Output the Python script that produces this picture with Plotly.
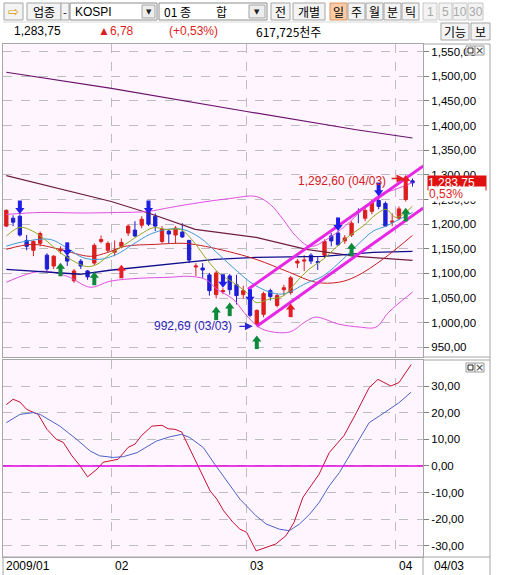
import plotly.graph_objects as go

W, H = 512, 575

# trading days shown (index on the x axis)
dates = ['2009-01-07', '2009-01-08', '2009-01-09', '2009-01-12', '2009-01-13', '2009-01-14',
         '2009-01-15', '2009-01-16', '2009-01-19', '2009-01-20', '2009-01-21', '2009-01-22',
         '2009-01-23', '2009-01-28', '2009-01-29', '2009-01-30',
         '2009-02-02', '2009-02-03', '2009-02-04', '2009-02-05', '2009-02-06', '2009-02-09',
         '2009-02-10', '2009-02-11', '2009-02-12', '2009-02-13', '2009-02-16', '2009-02-17',
         '2009-02-18', '2009-02-19', '2009-02-20', '2009-02-23', '2009-02-24', '2009-02-25',
         '2009-02-26', '2009-02-27',
         '2009-03-02', '2009-03-03', '2009-03-04', '2009-03-05', '2009-03-06', '2009-03-09',
         '2009-03-10', '2009-03-11', '2009-03-12', '2009-03-13', '2009-03-16', '2009-03-17',
         '2009-03-18', '2009-03-19', '2009-03-20', '2009-03-23', '2009-03-24', '2009-03-25',
         '2009-03-26', '2009-03-27', '2009-03-30', '2009-03-31',
         '2009-04-01', '2009-04-02', '2009-04-03']

opens = [1196, 1212, 1216, 1167, 1147, 1161, 1137, 1115, 1146, 1135, 1085, 1125, 1105, 1121, 1165, 1147,
         1143, 1155, 1182, 1188, 1198, 1226, 1216, 1165, 1186, 1178, 1184, 1167, 1113, 1111, 1097, 1057,
         1063, 1095, 1077, 1057, 1045, 997, 1017, 1065, 1035, 1067, 1061, 1121, 1125, 1137, 1124, 1137,
         1176, 1182, 1166, 1178, 1226, 1212, 1226, 1248, 1242, 1204, 1212, 1250, 1288]
highs = [1230, 1218, 1220, 1178, 1167, 1185, 1141, 1137, 1155, 1141, 1109, 1129, 1107, 1161, 1177, 1165,
         1167, 1171, 1200, 1206, 1216, 1230, 1222, 1196, 1190, 1196, 1202, 1168, 1121, 1121, 1101, 1105,
         1070, 1099, 1097, 1075, 1049, 1027, 1063, 1069, 1059, 1077, 1095, 1129, 1137, 1141, 1133, 1169,
         1182, 1186, 1178, 1206, 1232, 1234, 1250, 1252, 1246, 1222, 1236, 1280, 1292.6]
lows = [1194, 1196, 1175, 1147, 1135, 1155, 1105, 1109, 1140, 1115, 1081, 1109, 1087, 1117, 1161, 1143,
        1135, 1151, 1176, 1174, 1192, 1196, 1186, 1161, 1161, 1161, 1172, 1121, 1095, 1091, 1055, 1049,
        1058, 1057, 1037, 1049, 1011, 992.69, 1011, 1045, 1031, 1055, 1057, 1111, 1105, 1119, 1107, 1131,
        1155, 1156, 1160, 1174, 1202, 1206, 1220, 1230, 1194, 1196, 1208, 1246, 1276]
closes = [1228, 1204, 1178, 1155, 1165, 1181, 1109, 1135, 1149, 1125, 1105, 1115, 1093, 1157, 1169, 1161,
          1147, 1163, 1196, 1176, 1210, 1200, 1196, 1190, 1180, 1192, 1174, 1127, 1115, 1107, 1065, 1101,
          1065, 1067, 1055, 1065, 1015, 1025, 1059, 1053, 1055, 1071, 1091, 1125, 1127, 1125, 1122, 1165,
          1166, 1158, 1172, 1202, 1224, 1228, 1246, 1236, 1196, 1206, 1231, 1277, 1283.75]

# moving averages / bands (x = day index)
ma_top_x = [0, 15.3, 35.5, 51.7, 60]
ma_top = [1508.3, 1476.0, 1428.6, 1391.6, 1374.8]
ma_mid_x = [0, 7.9, 15.5, 21.2, 27.9, 36.9, 44.3, 51.7, 60]
ma_mid = [1298.6, 1272.2, 1246.0, 1221.7, 1189.3, 1173.1, 1148.9, 1134.7, 1126.6]
ma_navy_x = [0, 5, 10.9, 15.3, 30.8, 36.9, 46.8, 54.2, 60]
ma_navy = [1108.4, 1104.3, 1098.3, 1106.4, 1128.6, 1132.7, 1134.7, 1142.8, 1144.8]
bb_mid_x = [0, 3.9, 7.9, 12.4, 15, 17.5, 22, 26.4, 29.4, 32.7, 36.9, 41.8, 45.7, 49.1, 51.7, 55.6, 60]
bb_mid = [1148.9, 1159.0, 1148.9, 1134.7, 1142.8, 1154.9, 1159.0, 1161.0, 1154.9, 1144.8, 1128.6,
          1102.3, 1082.1, 1082.1, 1094.2, 1128.6, 1177.2]
bb_up_x = [0, 5, 10.9, 16.4, 20.8, 24.2, 28.6, 33, 36.9, 39, 40.9, 42.8, 44.9, 47.8, 50.8, 53, 55.2, 57.4, 60]
bb_up = [1219.7, 1223.7, 1222.7, 1223.7, 1225.7, 1233.8, 1243.9, 1252.0, 1256.1, 1239.9, 1209.5, 1175.2,
         1154.9, 1173.1, 1205.5, 1235.8, 1260.1, 1270.2, 1284.4]
bb_dn_x = [0, 5, 9, 12.4, 15.3, 19.7, 24.2, 26.8, 29.4, 31.1, 33.5, 35.7, 37.8, 41.8, 44.1, 45.7, 49.1,
           52.2, 54.6, 56.5, 60]
bb_dn = [1082.1, 1104.3, 1094.2, 1072.0, 1084.1, 1090.2, 1092.2, 1094.2, 1088.2, 1068.0, 1047.7, 1011.3,
         987.0, 981.0, 1001.2, 1011.3, 997.1, 991.1, 991.1, 1021.4, 1062.0]
ma5_x = [0, 2, 3.9, 6, 7.9, 9.9, 11.9, 13.4, 15.3, 17.2, 19.8, 21.7, 23.7, 25.7, 27.6, 29.6, 31.6, 33.5,
         35.5, 36.9, 38.8, 40.9, 42.8, 44.7, 46.8, 48.7, 50.6, 52.7, 54.6, 56.1, 57.6, 60]
ma5 = [1175.8, 1193.4, 1185.9, 1165.6, 1142.8, 1125.2, 1113.9, 1118.5, 1138.7, 1155.6, 1179.2, 1192.7,
       1189.3, 1189.3, 1165.6, 1128.6, 1098.3, 1081.5, 1061.3, 1041.0, 1047.7, 1054.4, 1082.1, 1108.4,
       1128.6, 1152.9, 1175.8, 1196.0, 1219.7, 1229.8, 1213.6, 1236.5]
ma10_x = [0, 3, 6.5, 8.9, 11.3, 13.8, 16.3, 18.7, 21.2, 23.7, 26.1, 28.6, 31.1, 33.5, 36.9, 40.7, 44.3,
          46.8, 49.7, 51.7, 54.2, 56.1, 58, 60]
ma10 = [1155.5, 1165.6, 1169.1, 1152.3, 1132.1, 1128.6, 1138.7, 1159.0, 1179.2, 1189.3, 1189.3, 1172.5,
        1142.2, 1111.9, 1074.6, 1058.0, 1080.0, 1095.0, 1128.6, 1155.5, 1185.9, 1196.0, 1209.5, 1223.7]

# trend channel (start / end)
chan_up_x = [35.7, 61.6]
chan_up = [1068, 1318]
chan_dn_x = [37, 61.6]
chan_dn = [992.69, 1233]

# signal arrows
sell_idx = [2, 9, 21, 32, 36, 49, 55]
sell_at = [1233.8, 1148.9, 1233.8, 1084.1, 1053.8, 1199.4, 1270.2]
buy_idx = [8, 13, 31, 33, 37, 51, 59]
buy_at = [1108.4, 1090.2, 1019.4, 1027.5, 960.7, 1148.9, 1219.7]
up_idx = [17, 42, 59]
up_at = [1104.3, 1025.5, 1286.4]

# oscillator panel
osc_x = [0, 1, 2, 3, 4.7, 6, 7.4, 8.4, 9.7, 10.9, 12, 13.4, 14.3, 15.6, 16.5, 18, 19, 20, 21.5, 23,
         23.9, 24.9, 25.9, 26.9, 28.1, 29.1, 30.1, 31.1, 32.1, 33.5, 34.5, 35.5, 36.9, 39.8, 41.3, 42.5,
         43.8, 45, 46.2, 47.7, 49.9, 51.7, 53.6, 54.9, 56.8, 58, 59.8]
osc = [23.1, 25.1, 24.1, 21.3, 19.4, 13.8, 10.0, 8.9, 3.8, 0.0, -4.1, -1.2, 1.4, 2.1, 2.5, 7.0, 8.2,
       11.5, 15.0, 15.3, 14.0, 13.8, 12.8, 7.5, 1.3, -3.8, -9.4, -12.5, -16.9, -21.3, -23.8, -25.0,
       -32.0, -29.4, -26.3, -21.3, -11.9, -7.5, -3.1, 5.0, 11.5, 20.0, 29.5, 32.6, 30.1, 31.4, 38.2]
sig_x = [0, 2, 4, 5, 7.9, 10.4, 12.4, 13.8, 15.8, 17.3, 19.3, 22.2, 24.2, 25.9, 27.1, 29.1, 30.8, 32.5,
         34.5, 36.9, 38.4, 40.3, 41.8, 43.3, 44.8, 46.2, 47.7, 49.2, 50.7, 52.1, 53.6, 55.1, 56.6, 58, 59.8]
sig = [16.3, 19.4, 20.1, 19.4, 15.0, 10.0, 5.6, 3.8, 3.2, 3.5, 5.0, 9.4, 11.0, 11.9, 10.7, 6.9, 0.6,
       -5.6, -12.5, -18.8, -21.9, -23.8, -24.4, -21.9, -18.2, -13.8, -7.5, -2.5, 3.8, 10.0, 16.3, 18.8,
       21.3, 23.8, 27.8]

price_ticks = list(range(950, 1551, 50))
osc_ticks = [-30, -20, -10, 0, 10, 20, 30]
month_labels = ['2009/01', '02', '03', '04']
last_price = 1283.75
last_change_pct = '0,53%'


def kfmt(v):
    s = f"{abs(v):,.2f}".replace('.', ',')
    return ('-' if v < 0 else '') + s


NUM = 'Liberation Sans, Arial, sans-serif'
KOR = 'Noto Sans CJK KR'
RED = '#DC1E1E'
BLUE = '#1E1ED2'
PX = 2.023  # price units per pixel in the top panel

xi = list(range(len(dates)))
month_edges = [i - 0.5 for i in xi if i == 0 or dates[i][5:7] != dates[i - 1][5:7]]

fig = go.Figure()


def line(x, y, color, width=1, shape='linear'):
    fig.add_trace(go.Scatter(x=x, y=y, mode='lines', line=dict(color=color, width=width, shape=shape),
                             hoverinfo='skip', xaxis='x', yaxis='y'))


line(ma_top_x, ma_top, '#6B126B', 1.2)
line(ma_mid_x, ma_mid, '#6E1E3E', 1.2)
line(bb_up_x, bb_up, '#E050E0', 1, 'spline')
line(bb_dn_x, bb_dn, '#E050E0', 1, 'spline')
line(ma_navy_x, ma_navy, '#10108C', 1.3)
line(bb_mid_x, bb_mid, '#C81E1E', 1, 'spline')
line(ma10_x, ma10, '#3C9BD2', 1, 'spline')
line(ma5_x, ma5, '#8CAA1E', 1, 'spline')

fig.add_trace(go.Candlestick(
    x=xi, open=opens, high=highs, low=lows, close=closes,
    increasing=dict(line=dict(color=RED, width=1), fillcolor=RED),
    decreasing=dict(line=dict(color=BLUE, width=1), fillcolor=BLUE),
    xaxis='x', yaxis='y', hoverinfo='skip'))

line(chan_up_x, chan_up, '#E628E6', 3)
line(chan_dn_x, chan_dn, '#E628E6', 3)


def arrows(idx, at, color, down):
    sgn = -1 if down else 1
    head = [v + sgn * 2.6 * PX for v in at]
    shaft = [v - sgn * 2.8 * PX for v in at]
    fig.add_trace(go.Scatter(x=idx, y=shaft, mode='markers', hoverinfo='skip',
                             marker=dict(symbol='line-ns-open', size=6, color=color,
                                         line=dict(color=color, width=4))))
    fig.add_trace(go.Scatter(x=idx, y=head, mode='markers', hoverinfo='skip',
                             marker=dict(symbol='triangle-down' if down else 'triangle-up',
                                         size=8, color=color, line=dict(width=0))))


arrows(sell_idx, sell_at, '#1E1EE6', True)
arrows(buy_idx, buy_at, '#0E8A3A', False)
arrows(up_idx, up_at, '#E61E28', False)

fig.add_trace(go.Scatter(x=osc_x, y=osc, mode='lines', line=dict(color='#C8102E', width=1),
                         xaxis='x2', yaxis='y2', hoverinfo='skip'))
fig.add_trace(go.Scatter(x=sig_x, y=sig, mode='lines', line=dict(color='#4A62C8', width=1),
                         xaxis='x2', yaxis='y2', hoverinfo='skip'))

GRID = '#BDBDBD'
FRAME = '#A6A6A6'
xdom = [3 / W, 423 / W]
xr = [-0.49, 61.55]
AXFONT = dict(family=NUM, size=11.5, color='black')

fig.update_layout(
    width=W, height=H, margin=dict(l=0, r=0, t=0, b=0), autosize=False,
    paper_bgcolor='white', plot_bgcolor='#FFF5FF', showlegend=False,
    xaxis=dict(domain=xdom, range=xr, anchor='y', showticklabels=False, ticks='',
               tickvals=month_edges, showgrid=True, gridcolor=GRID, griddash='dash',
               zeroline=False, showline=True, mirror=True, linecolor=FRAME,
               rangeslider=dict(visible=False), fixedrange=True),
    yaxis=dict(domain=[1 - 357 / H, 1 - 44 / H], range=[930.4, 1565.6], side='right',
               tickvals=price_ticks, ticktext=[kfmt(v) for v in price_ticks],
               ticks='outside', ticklen=5, tickcolor='#808080', tickfont=AXFONT,
               showgrid=True, gridcolor=GRID, griddash='dash', zeroline=False,
               showline=True, mirror=True, linecolor=FRAME),
    xaxis2=dict(domain=xdom, range=xr, anchor='y2', matches='x', tickvals=month_edges,
                showticklabels=False, ticks='',
                showgrid=True, gridcolor=GRID, griddash='dash', zeroline=False,
                showline=True, mirror=True, linecolor=FRAME),
    yaxis2=dict(domain=[1 - 557 / H, 1 - 360 / H], range=[-34.3, 39.9], side='right',
                tickvals=osc_ticks, ticktext=[kfmt(v) for v in osc_ticks],
                ticks='outside', ticklen=5, tickcolor='#808080', tickfont=AXFONT,
                showgrid=True, gridcolor=GRID, griddash='dash', zeroline=False,
                showline=True, mirror=True, linecolor=FRAME),
)

shapes = []
ann = []


def px_rect(x0, y0, x1, y1, fill, edge='#A5A5A5', width=1):
    shapes.append(dict(type='rect', xref='paper', yref='paper', x0=x0 / W, x1=x1 / W,
                       y0=1 - y1 / H, y1=1 - y0 / H, fillcolor=fill,
                       line=dict(color=edge, width=width), layer='above'))


def px_line(x0, y0, x1, y1, color=FRAME, width=1):
    shapes.append(dict(type='line', xref='paper', yref='paper', x0=x0 / W, x1=x1 / W,
                       y0=1 - y0 / H, y1=1 - y1 / H, line=dict(color=color, width=width),
                       layer='above'))


def px_text(x, y, text, color='black', size=12, anchor='center', family=KOR, bg=None):
    a = dict(xref='paper', yref='paper', x=x / W, y=1 - y / H, text=text, showarrow=False,
             xanchor=anchor, yanchor='middle', font=dict(family=family, size=size, color=color))
    if bg:
        a['bgcolor'] = bg
    ann.append(a)


# zero line of the oscillator
shapes.append(dict(type='line', xref='paper', yref='y2', x0=xdom[0], x1=xdom[1], y0=0, y1=0,
                   line=dict(color='#E000E0', width=1.5)))

# frame around the axis strip
px_line(423, 44, 490, 44)
px_line(423, 357, 490, 357)
px_line(423, 360, 490, 360)
px_line(3, 557, 490, 557)
px_line(490, 44, 490, 575)
px_line(3, 557, 3, 575)
px_line(423, 557, 423, 575)

# month labels under the oscillator panel
for edge, lab in zip(month_edges, month_labels):
    ann.append(dict(xref='x2', yref='paper', x=edge + 0.2, y=1 - 565.5 / H, text=lab,
                    showarrow=False, xanchor='left', yanchor='middle',
                    font=dict(family=NUM, size=12, color='black')))

# window icons
for top in (46, 363):
    px_rect(466, top, 475, top + 9, 'white', '#9A9A9A')
    px_rect(468, top + 2, 473, top + 7, 'white', '#202020')
    px_rect(475, top, 484, top + 9, 'white', '#9A9A9A')
    px_text(479.5, top + 4.5, '×', '#404040', 11, family='DejaVu Sans')

# toolbar row
px_rect(4, 3, 23, 20, '#F3F3F3')
px_text(13.5, 11.5, '⇨', '#D9A000', 13, family='DejaVu Sans')
px_rect(27, 3, 61, 20, '#F3F3F3')
px_text(44, 11.5, '업종', size=12)
px_rect(61, 3, 69, 20, '#F3F3F3')
px_text(65, 11.5, '-', size=11)
px_rect(70, 3, 157, 20, 'white', '#8C8C8C')
px_text(73, 11.5, 'KOSPI', size=12, anchor='left', family=NUM)
px_rect(142, 5, 155, 18, '#EDEDED')
px_text(148.5, 11.5, '▼', '#202020', 7, family='DejaVu Sans')
px_rect(159, 3, 267, 20, 'white', '#8C8C8C')
px_text(162, 11.5, '01 종', size=12, anchor='left')
px_text(221, 11.5, '합', size=12)
px_rect(249, 5, 265, 18, '#EDEDED')
px_text(257, 11.5, '▼', '#202020', 7, family='DejaVu Sans')
px_rect(271, 3, 290, 20, '#F3F3F3')
px_text(280.5, 11.5, '전')
px_rect(293, 3, 325, 20, '#F3F3F3')
px_text(309, 11.5, '개별')
px_rect(330, 3, 347, 20, '#F9CBA7', '#E0955E')
px_text(338.5, 11.5, '일')
for lab, x0, x1 in [('주', 348, 365), ('월', 366, 383), ('분', 384, 401), ('틱', 402, 419)]:
    px_rect(x0, 3, x1, 20, '#F3F3F3')
    px_text((x0 + x1) / 2, 11.5, lab)
for lab, x0, x1 in [('1', 423, 437), ('5', 439, 452), ('10', 453, 467), ('30', 468, 483)]:
    px_rect(x0, 3, x1, 20, '#F3F3F3', '#C8C8C8')
    px_text((x0 + x1) / 2, 11.5, lab, '#A8A8A8', 12, family=NUM)

# quote row
px_line(3, 22, 438, 22, '#D8D8D8')
px_text(12, 31, kfmt(last_price), size=12, anchor='left', family=NUM)
px_text(96, 31, '▲6,78', RED, 12, anchor='left', family=NUM)
px_text(167, 31, '(+0,53%)', RED, 12, anchor='left', family=NUM)
px_text(254, 31, '617,725천주', size=12, anchor='left')
px_rect(441, 23, 469, 40, '#F3F3F3')
px_text(455, 31.5, '기능')
px_rect(471, 23, 490, 40, '#F3F3F3')
px_text(480.5, 31.5, '보')

# last price tag on the axis
ann.append(dict(xref='paper', yref='y', x=427 / W, y=last_price, text=kfmt(last_price),
                showarrow=False, xanchor='left', yanchor='middle', bgcolor='#E01010',
                borderpad=0, width=58, align='left',
                font=dict(family=NUM, size=12, color='white')))
ann.append(dict(xref='paper', yref='y', x=428 / W, y=last_price - 11 * PX, text=last_change_pct,
                showarrow=False, xanchor='left', yanchor='middle', bgcolor='white', borderpad=0,
                width=56, align='left', font=dict(family=NUM, size=12, color=RED)))

# low / high labels
low_i = lows.index(min(lows))
high_i = highs.index(max(highs))
ann.append(dict(xref='x', yref='y', x=low_i - 3.4, y=min(lows) + 1.5,
                text=f"{kfmt(min(lows))} ({dates[low_i][5:7]}/{dates[low_i][8:10]})",
                showarrow=False, xanchor='right', yanchor='middle',
                font=dict(family=NUM, size=12, color='#2828B4')))
ann.append(dict(xref='x', yref='y', x=low_i - 0.6, y=min(lows), ax=low_i - 2.8, ay=min(lows),
                axref='x', ayref='y', text='', showarrow=True, arrowhead=2, arrowsize=1.2,
                arrowwidth=1.3, arrowcolor='#2828D2'))
ann.append(dict(xref='x', yref='y', x=high_i - 3.6, y=max(highs) - 5,
                text=f"{kfmt(max(highs))} ({dates[high_i][5:7]}/{dates[high_i][8:10]})",
                showarrow=False, xanchor='right', yanchor='middle',
                font=dict(family=NUM, size=12, color='#D02020')))
ann.append(dict(xref='x', yref='y', x=high_i - 1.2, y=max(highs), ax=high_i - 3.3, ay=max(highs),
                axref='x', ayref='y', text='', showarrow=True, arrowhead=2, arrowsize=1.2,
                arrowwidth=1.3, arrowcolor='#E02020'))

# last date label in the axis strip
px_text(432, 565.5, f"{dates[-1][5:7]}/{dates[-1][8:10]}", size=12, anchor='left', family=NUM)

fig.update_layout(shapes=shapes, annotations=ann)
fig.write_html("out.html", config={'displayModeBar': False},
               post_script="document.body.style.margin='0';")
